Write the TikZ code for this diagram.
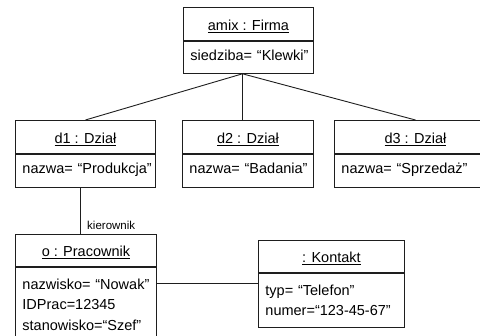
\documentclass[tikz,border=0pt]{standalone}
\usepackage{fontspec}
\setmainfont{Liberation Sans}
\usepackage{tikz}
\usetikzlibrary{positioning}
\definecolor{linia}{HTML}{1E1E1E}
\definecolor{tlo}{HTML}{FFFFFF}

\begin{document}
\begin{tikzpicture}[x=1pt, y=-1pt, font=\fontsize{14.5pt}{20.5pt}\selectfont]
    \tikzset{
      naglowek/.style={rectangle, draw=linia, line width=0.9pt, fill=tlo,
                minimum width=#1, minimum height=33pt, inner sep=0pt,
                text height=13pt, text depth=0pt, anchor=north west},
      atrybuty/.style={rectangle, draw=linia, line width=0.9pt, fill=tlo,
                text width=#1, align=left, inner xsep=7pt, inner ysep=0pt,
                minimum height=33pt,
                execute at begin node={\hyphenpenalty=10000\hbadness=10000\hfuzz=20pt}},
      wiersz/.style={text height=9pt, text depth=3pt},
      lacze/.style={draw=linia, line width=0.9pt},
      rola/.style={font=\fontsize{11.5pt}{13pt}\selectfont, anchor=base west}
    }
    \useasboundingbox (0,0) rectangle (480,336);
    \clip (0,0) rectangle (480,336);
    \node[naglowek=130pt] (firma) at (183,7) {\underline{amix : Firma}};
    \node[atrybuty=116pt, wiersz, minimum height=32pt, below=0pt of firma] (firmaat) {siedziba=~“Klewki”};
    \node[naglowek=140pt] (d1) at (15,120) {\underline{d1 : Dział}};
    \node[atrybuty=126pt, wiersz, below=0pt of d1] (d1at) {nazwa=~“Produkcja”};
    \node[naglowek=131pt] (d2) at (182,120) {\underline{d2 : Dział}};
    \node[atrybuty=117pt, wiersz, below=0pt of d2] (d2at) {nazwa=~“Badania”};
    \node[naglowek=162pt] (d3) at (334,120) {\underline{d3 : Dział}};
    \node[atrybuty=148pt, wiersz, below=0pt of d3] (d3at) {nazwa=~“Sprzedaż”};
    \node[naglowek=141pt, minimum height=32pt] (prac) at (15,234) {\underline{o : Pracownik}};
    \node[atrybuty=127pt, minimum height=74pt, below=0pt of prac] (pracat)
      {nazwisko=~“Nowak”\\IDPrac=12345\\stanowisko=“Szef”};
    \node[naglowek=146pt, minimum height=32pt] (kont) at (258,240) {\underline{: Kontakt}};
    \node[atrybuty=132pt, minimum height=54pt, below=0pt of kont] (kontat)
      {typ=~“Telefon”\\numer=“123-45-67”};
    % firma -> dzialy
    \coordinate (hub) at ([xshift=-6pt]firmaat.south);
    \draw[lacze] (hub) -- (d1.north);
    \draw[lacze] (hub) -- (hub |- d2.north);
    \draw[lacze] (hub) -- (d3.north);
    % kierownik dzialu
    \draw[lacze] ([xshift=-5pt]d1at.south) -- ([xshift=-5pt]d1at.south |- prac.north)
      node[rola, xshift=3pt, yshift=4pt] {kierownik};
    \draw[lacze] ([yshift=-17pt]pracat.north east) -- ([yshift=-17pt]pracat.north east -| kontat.west);
  \end{tikzpicture}
\end{document}
